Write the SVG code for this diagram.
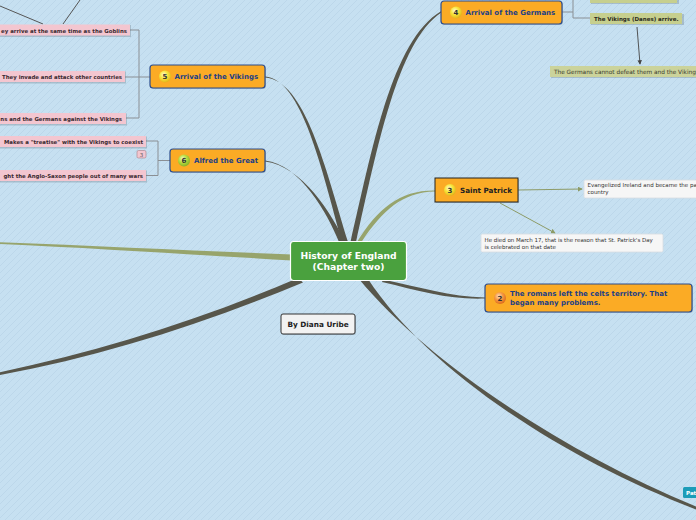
<svg xmlns="http://www.w3.org/2000/svg" width="696" height="520" viewBox="0 0 696 520">
<defs>
<pattern id="bgp" patternUnits="userSpaceOnUse" width="7" height="7">
<rect width="7" height="7" fill="#c6e0f1"/>
<path d="M-1,8 L8,-1" stroke="#bcd7ea" stroke-width="1"/>
</pattern>
<radialGradient id="gy" cx="0.4" cy="0.35" r="0.65"><stop offset="0" stop-color="#fffbd0"/><stop offset="0.5" stop-color="#f7e53a"/><stop offset="1" stop-color="#e3b51c"/></radialGradient>
<radialGradient id="gg" cx="0.4" cy="0.35" r="0.65"><stop offset="0" stop-color="#f1ffc8"/><stop offset="0.5" stop-color="#b9dc3d"/><stop offset="1" stop-color="#86b22a"/></radialGradient>
<radialGradient id="go" cx="0.4" cy="0.35" r="0.65"><stop offset="0" stop-color="#ffe0c0"/><stop offset="0.5" stop-color="#f59a45"/><stop offset="1" stop-color="#dd6c1d"/></radialGradient>
<marker id="arrD" viewBox="0 0 6 6" refX="5" refY="3" markerWidth="5" markerHeight="5" orient="auto"><path d="M0,0 L6,3 L0,6 Z" fill="#444"/></marker>
<marker id="arrO" viewBox="0 0 6 6" refX="5" refY="3" markerWidth="5" markerHeight="5" orient="auto"><path d="M0,0 L6,3 L0,6 Z" fill="#8d9b67"/></marker>
</defs>
<style>
text{font-family:"DejaVu Sans","Liberation Sans",sans-serif}
.main{fill:#fbab25;stroke:#2c4c8c;stroke-width:1.2}
.mt{fill:#1d3f86;font-weight:bold;font-size:7px}
.num{fill:#333;font-weight:bold;font-size:7px;text-anchor:middle}
.pink{fill:#f3c6d0}
.pt{fill:#3a2a30;font-weight:bold;font-size:5.4px;text-anchor:end}
.kh{fill:#c6cf8e}
.kt{fill:#2b2b1e;font-weight:bold;font-size:5.5px}
.wh{fill:#f6f6f6;stroke:#d8dde2;stroke-width:0.8}
.wt{fill:#333;font-size:5.5px}
.sh{fill:#6b7a88;opacity:0.35}
.br{fill:none;stroke:#8a8f94;stroke-width:1}
.thick{fill:#57564b}
.olive{fill:#97a46c}
</style>
<rect width="696" height="520" fill="url(#bgp)"/>

<g id="connectors">
<path class="olive" d="M0,242.2 C100,246 200,251 292,254.5 L292,260.5 C200,255 100,248.5 0,244 Z"/>
<path class="thick" d="M0,372.3 C100,351 200,320 298,278 L303,282.5 C205,323 104,356 0,375 Z"/>
<path class="thick" d="M359,279 C428,362 560,450 696,506.5 L696,509.5 C556,456 426,367 368,279 Z"/>
<path class="thick" d="M383,279.5 C420,287 450,297 485,297.4 L485,298.6 C450,300 420,291 382,282 Z"/>
<path class="thick" d="M350.5,242 C372,150 392,40 441,11.3 L441,12.7 C397,42 377,150 356,242 Z"/>
<path class="thick" d="M265,76.4 C302,79 322,170 342,242 L348,242 C326,170 305,80 265,77.6 Z"/>
<path class="thick" d="M265,160.4 C300,164 328,214 339,242 L345,242 C332,214 302,166 265,161.6 Z"/>
<path class="olive" d="M357,242 C378,208 400,190 435,190.4 L435,191.6 C402,192.5 383,210 361.5,242 Z"/>
<path class="br" d="M150,77 H139 M139,30 V118 M130,30 H139 M125,77 H139 M126,118 H139"/>
<path class="br" d="M170,160.5 H158 M158,141 V175.5 M146,141 H158 M146,175.5 H158"/>
<path class="br" d="M562,12 H573 M573,0 V18 H590"/>
<path d="M0,6 L43,24 M80,0 L63,24" stroke="#555" stroke-width="1" fill="none"/>
<path d="M637,27 L640,64" stroke="#444" stroke-width="0.9" fill="none" marker-end="url(#arrD)"/>
<path d="M518,190 L582,189" stroke="#8d9b67" stroke-width="1" fill="none" marker-end="url(#arrO)"/>
<path d="M500,203 L555,233" stroke="#8d9b67" stroke-width="1" fill="none" marker-end="url(#arrO)"/>
</g>

<g id="center">
<rect x="290.5" y="241.5" width="116" height="39" rx="3" fill="#4aa13e" stroke="#ffffff" stroke-width="1.2"/>
<text x="348.5" y="258.5" text-anchor="middle" fill="#fff" font-weight="bold" font-size="9.2">History of England</text>
<text x="348.5" y="270" text-anchor="middle" fill="#fff" font-weight="bold" font-size="9.2">(Chapter two)</text>
</g>

<g id="author">
<rect x="282" y="315" width="74" height="20" rx="2" class="sh"/>
<rect x="281" y="314" width="74" height="20" rx="2" fill="#f2f2f2" stroke="#333" stroke-width="1"/>
<text x="318" y="327" text-anchor="middle" fill="#222" font-weight="bold" font-size="7.3">By Diana Uribe</text>
</g>

<g id="n4">
<rect x="442" y="2" width="121" height="23" rx="3" class="sh"/>
<rect x="441" y="1" width="121" height="23" rx="3" class="main"/>
<circle cx="456" cy="12.5" r="6" fill="url(#gy)"/>
<text x="456" y="15" class="num">4</text>
<text x="465.5" y="15.3" class="mt">Arrival of the Germans</text>
</g>

<g id="n5">
<rect x="151" y="66" width="115" height="23" rx="3" class="sh"/>
<rect x="150" y="65" width="115" height="23" rx="3" class="main"/>
<circle cx="165" cy="76.5" r="6" fill="url(#gy)"/>
<text x="165" y="79" class="num">5</text>
<text x="174.5" y="79.3" class="mt">Arrival of the Vikings</text>
</g>

<g id="n6">
<rect x="171" y="150" width="95" height="23" rx="3" class="sh"/>
<rect x="170" y="149" width="95" height="23" rx="3" class="main"/>
<circle cx="184" cy="160.5" r="6" fill="url(#gg)"/>
<text x="184" y="163" class="num">6</text>
<text x="194" y="163.3" class="mt">Alfred the Great</text>
</g>

<g id="n3">
<rect x="436" y="179" width="83" height="24" class="sh"/>
<rect x="435" y="178" width="83" height="24" fill="#fbab25" stroke="#222" stroke-width="1"/>
<circle cx="450" cy="190" r="6" fill="url(#gy)"/>
<text x="450" y="192.5" class="num">3</text>
<text x="460" y="193" fill="#222" font-weight="bold" font-size="7.2">Saint Patrick</text>
</g>

<g id="n2">
<rect x="486" y="285" width="207" height="28" rx="3" class="sh"/>
<rect x="485" y="284" width="207" height="28" rx="3" class="main"/>
<circle cx="500" cy="298" r="6" fill="url(#go)"/>
<text x="500" y="300.5" class="num">2</text>
<text x="510" y="296" class="mt">The romans left the celts territory. That</text>
<text x="510" y="305" class="mt">began many problems.</text>
</g>

<g id="p1">
<rect x="0" y="25" width="131" height="12" class="sh"/>
<rect x="0" y="24.5" width="130" height="11" class="pink"/>
<text x="127" y="32.5" class="pt">ey arrive at the same time as the Goblins</text>
</g>
<g id="p2">
<rect x="0" y="71.5" width="126" height="12" class="sh"/>
<rect x="0" y="71" width="125" height="11" class="pink"/>
<text x="122" y="79" class="pt">They invade and attack other countries</text>
</g>
<g id="p3">
<rect x="0" y="113.5" width="127" height="12" class="sh"/>
<rect x="0" y="113" width="126" height="11" class="pink"/>
<text x="122" y="121" class="pt">ns and the Germans against the Vikings</text>
</g>
<g id="p4">
<rect x="0" y="136.5" width="147" height="12" class="sh"/>
<rect x="0" y="136" width="146" height="11" class="pink"/>
<text x="143" y="144" class="pt">Makes a "treatise" with the Vikings to coexist</text>
</g>
<g id="p5">
<rect x="0" y="170.5" width="147" height="12" class="sh"/>
<rect x="0" y="170" width="146" height="11" class="pink"/>
<text x="143" y="178" class="pt">ght the Anglo-Saxon people out of many wars</text>
</g>
<g id="badge">
<rect x="137" y="150.5" width="9" height="7.5" rx="1.5" fill="#f3c6d0" stroke="#b08890" stroke-width="0.7"/>
<text x="141.5" y="156.6" text-anchor="middle" fill="#555" font-size="5.5">3</text>
</g>

<g id="k1">
<rect x="591" y="-7" width="88" height="11" class="sh"/>
<rect x="590" y="-8" width="87" height="11" class="kh"/>
</g>
<g id="k2">
<rect x="591" y="14" width="93" height="11" class="sh"/>
<rect x="590" y="13" width="92" height="11" class="kh"/>
<text x="594" y="20.5" class="kt">The Vikings (Danes) arrive.</text>
</g>
<g id="k3">
<rect x="551" y="67" width="146" height="11" class="sh"/>
<rect x="550" y="66" width="146" height="11" fill="#cbd39b"/>
<text x="554" y="73.8" fill="#3a3a30" font-size="5.8">The Germans cannot defeat them and the Vikings s</text>
</g>

<g id="w1">
<rect x="584" y="180" width="113" height="18" rx="1.5" class="wh"/>
<text x="587.5" y="186.5" class="wt">Evangelized Ireland and became the pa</text>
<text x="587.5" y="193.5" class="wt">country</text>
</g>
<g id="w2">
<rect x="481" y="234" width="182" height="18" rx="1.5" class="wh"/>
<text x="484.5" y="242" class="wt">He died on March 17, that is the reason that St. Patrick's Day</text>
<text x="484.5" y="249" class="wt">is celebrated on that date</text>
</g>

<g id="teal">
<rect x="683" y="487" width="14" height="11" rx="1.5" fill="#1c9cb8"/>
<text x="686" y="494.5" fill="#fff" font-weight="bold" font-size="5.5">Pat</text>
</g>
</svg>
